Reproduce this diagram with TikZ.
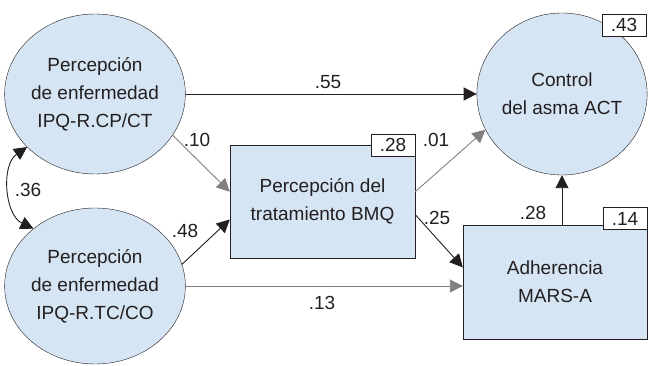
\documentclass[tikz,border=0pt]{standalone}
\usepackage{fontspec}
\setmainfont{Liberation Sans}
\usepackage{xcolor}
\usepackage{tikz}
\usetikzlibrary{positioning}
\usetikzlibrary{shapes.geometric}
\usetikzlibrary{arrows.meta}
\definecolor{nodeblue}{RGB}{214,229,244}
\definecolor{inkdark}{RGB}{35,31,32}
\definecolor{pathgray}{RGB}{128,128,128}

\begin{document}
\begin{tikzpicture}[x=1pt, y=-1pt,
font=\fontsize{19}{28}\selectfont, text=inkdark,
latentnode/.style={ellipse, draw=inkdark, fill=nodeblue, thin, inner sep=0pt, align=center},
observednode/.style={rectangle, draw=inkdark, fill=nodeblue, thin, inner sep=0pt, align=center},
r2node/.style={rectangle, draw=inkdark, fill=white, thin, minimum width=44pt, minimum height=22pt, inner sep=0pt},
patharrow/.style={draw=inkdark, line width=0.9pt, -{Triangle[length=13pt, width=13pt]}},
weakarrow/.style={draw=pathgray, line width=0.9pt, -{Triangle[length=13pt, width=13pt]}},
coeflabel/.style={inner sep=1pt},
]
\useasboundingbox (0,0) rectangle (648,366);

%Nodes
\node[latentnode, minimum width=174pt, minimum height=160pt]	(ipqcp)	at (95,94)		{Percepción\\de enfermedad\\IPQ-R.CP/CT};
\node[latentnode, minimum width=174pt, minimum height=156pt]	(ipqtc)	at (95,286)		{Percepción\\de enfermedad\\IPQ-R.TC/CO};
\node[latentnode, minimum width=170pt, minimum height=162pt]	(ctrl)	at (562,94)		{Control\\del asma ACT};
\node[observednode, minimum width=185pt, minimum height=113pt]	(bmq)	at (322.5,201.5)	{Percepción del\\tratamiento BMQ};
\node[observednode, minimum width=184pt, minimum height=114pt]	(mars)	at (555,282)		{Adherencia\\MARS-A};

%R2 boxes
\node[r2node, anchor=east]		(bmqr2)		at (bmq.north east)		{.28};
\node[r2node]					(marsr2)	[above=-5pt of mars.north east, anchor=south east]	{.14};
\node[r2node]					(ctrlr2)	at (624,25)				{.43};

%Lines
\draw[patharrow] (ipqcp.east) -- (ctrl.west);
\draw[weakarrow] (ipqcp.-28) -- (bmq.174);
\draw[patharrow] (ipqtc.14) -- (bmq.191);
\draw[weakarrow] (ipqtc.east) -- (ipqtc.east -| mars.west);
\draw[weakarrow] (bmq.6) -- (ctrl.205);
\draw[patharrow] (bmq.-8) -- (mars.171);
\draw[patharrow] (ctrl.south |- mars.north) -- (ctrl.south);
\draw[patharrow, {Triangle[length=13pt, width=13pt]}-{Triangle[length=13pt, width=13pt]}] (ipqcp.218) to[bend right=60] (ipqtc.137);

%Coefficients
\node[coeflabel] (c55) at (328,82)  {.55};
\node[coeflabel] (c10) at (197,140) {.10};
\node[coeflabel] (c48) at (185,231) {.48};
\node[coeflabel] (c13) at (322,303) {.13};
\node[coeflabel] (c01) at (436,140) {.01};
\node[coeflabel] (c25) at (437,218) {.25};
\node[coeflabel] (c28) at (533,213) {.28};
\node[coeflabel] (c36) at (28,190)  {.36};
\end{tikzpicture}
\end{document}
